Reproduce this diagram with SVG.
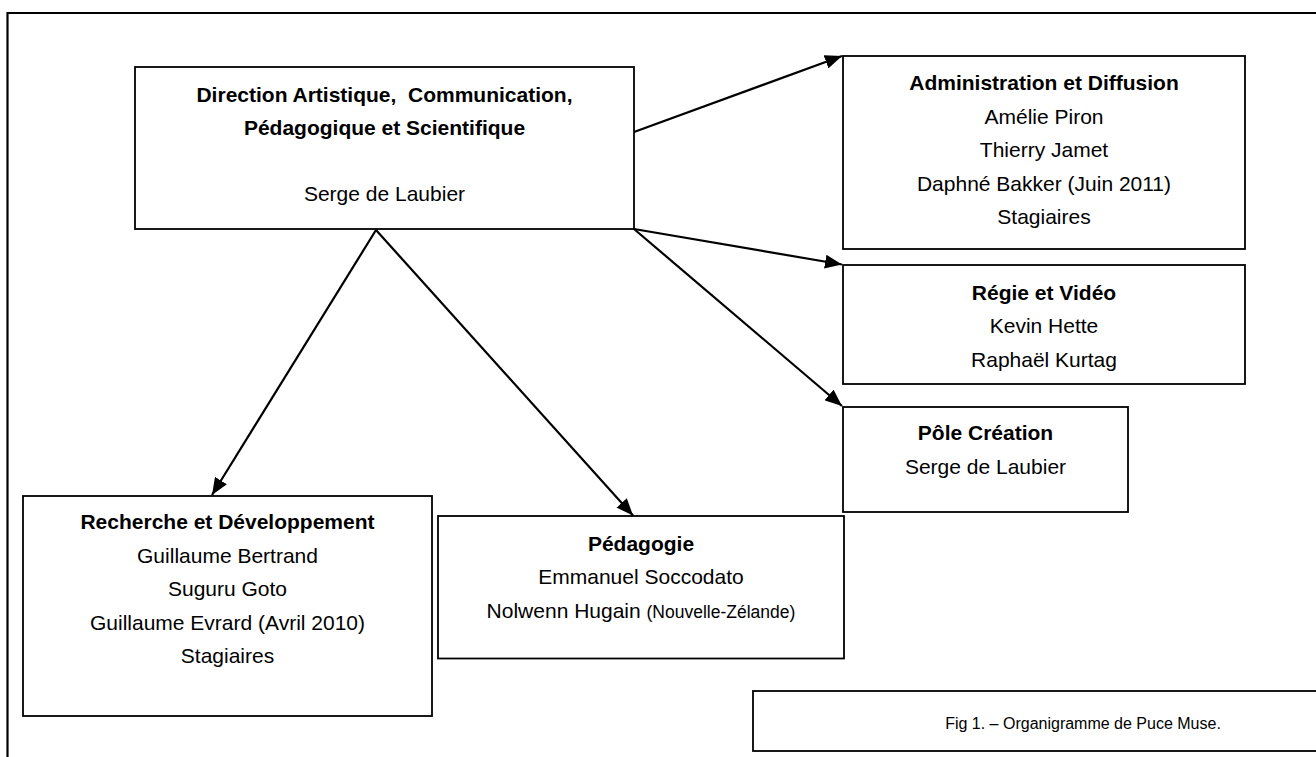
<svg xmlns="http://www.w3.org/2000/svg" width="1316" height="757" viewBox="0 0 1316 757">
  <style>
    .box { fill: #ffffff; stroke: #000000; stroke-width: 1.8; }
    .frame { fill: none; stroke: #000000; stroke-width: 2.2; }
    .edge { fill: none; stroke: #000000; stroke-width: 2.2; marker-end: url(#head); }
    text { font-family: "Liberation Sans", Arial, sans-serif; font-size: 21px; fill: #000000; text-anchor: middle; }
    .title { font-weight: bold; }
    .small { font-size: 17.5px; }
    .caption { font-size: 16px; }
  </style>
  <defs>
    <marker id="head" markerUnits="userSpaceOnUse" markerWidth="18" markerHeight="14" refX="17" refY="7" orient="auto">
      <path d="M0,0 L17,7 L0,14 z" fill="#000000"/>
    </marker>
  </defs>

  <rect width="1316" height="757" fill="#ffffff"/>

  <!-- page frame (open to the right and bottom) -->
  <path class="frame" d="M7.5,757 V13 H1316"/>

  <!-- connectors -->
  <g id="connectors">
    <line class="edge" x1="634" y1="132" x2="842" y2="56"/>
    <line class="edge" x1="634" y1="229" x2="842" y2="264.5"/>
    <line class="edge" x1="634" y1="229" x2="842" y2="406"/>
    <line class="edge" x1="376" y1="230" x2="212" y2="495"/>
    <line class="edge" x1="376" y1="230" x2="633" y2="515.5"/>
  </g>

  <g id="direction">
    <rect class="box" x="135" y="67" width="499" height="162"/>
    <text class="title" x="384.5" y="102" style="white-space:pre">Direction Artistique,  Communication,</text>
    <text class="title" x="384.5" y="135">Pédagogique et Scientifique</text>
    <text x="384.5" y="201">Serge de Laubier</text>
  </g>

  <g id="administration">
    <rect class="box" x="843" y="56" width="402" height="193"/>
    <text class="title" x="1044" y="90">Administration et Diffusion</text>
    <text x="1044" y="123.5">Amélie Piron</text>
    <text x="1044" y="157">Thierry Jamet</text>
    <text x="1044" y="190.5">Daphné Bakker (Juin 2011)</text>
    <text x="1044" y="224">Stagiaires</text>
  </g>

  <g id="regie">
    <rect class="box" x="843" y="265" width="402" height="119"/>
    <text class="title" x="1044" y="299.5">Régie et Vidéo</text>
    <text x="1044" y="333">Kevin Hette</text>
    <text x="1044" y="366.5">Raphaël Kurtag</text>
  </g>

  <g id="pole-creation">
    <rect class="box" x="843" y="407" width="285" height="105"/>
    <text class="title" x="985.5" y="440">Pôle Création</text>
    <text x="985.5" y="473.5">Serge de Laubier</text>
  </g>

  <g id="recherche">
    <rect class="box" x="23" y="496" width="409" height="220"/>
    <text class="title" x="227.5" y="529">Recherche et Développement</text>
    <text x="227.5" y="563">Guillaume Bertrand</text>
    <text x="227.5" y="596">Suguru Goto</text>
    <text x="227.5" y="630">Guillaume Evrard (Avril 2010)</text>
    <text x="227.5" y="663">Stagiaires</text>
  </g>

  <g id="pedagogie">
    <rect class="box" x="438" y="516" width="406" height="142.5"/>
    <text class="title" x="641" y="550.5">Pédagogie</text>
    <text x="641" y="584">Emmanuel Soccodato</text>
    <text x="641" y="618">Nolwenn Hugain <tspan class="small">(Nouvelle-Zélande)</tspan></text>
  </g>

  <g id="caption">
    <rect class="box" x="753" y="691" width="660" height="60"/>
    <text class="caption" x="1083" y="729">Fig 1. – Organigramme de Puce Muse.</text>
  </g>
</svg>
